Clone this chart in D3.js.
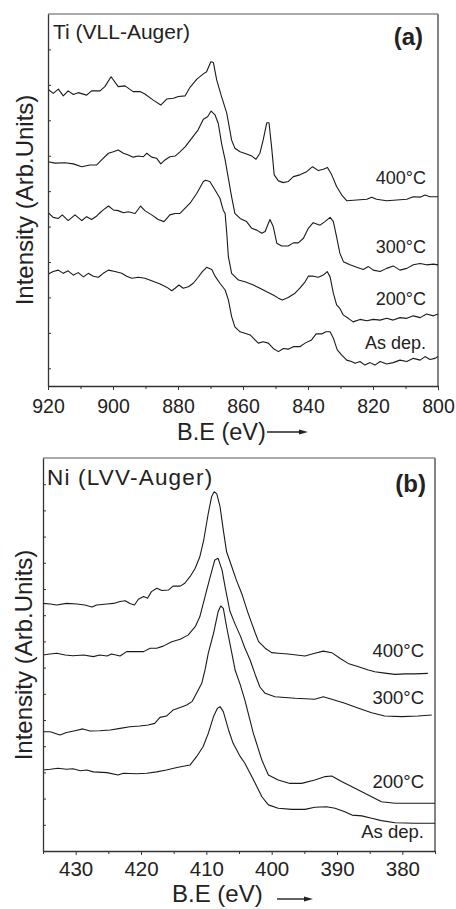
<!DOCTYPE html>
<html><head><meta charset="utf-8">
<script src="https://cdn.jsdelivr.net/npm/d3@7"></script>
<style>
body{margin:0;background:#fff}
svg{display:block}
text{font-family:"Liberation Sans",Arial,Helvetica,sans-serif;fill:#222}
</style>
</head><body>
<svg id="c" width="456" height="909"></svg>
<script>
// ---------- DATA : panel (a) Ti (VLL-Auger), [B.E (eV), intensity (arb.)] ----------
const tiTicksMajor = [920, 900, 880, 860, 840, 820, 800];
const tiTicksMinor = [910, 890, 870, 850, 830, 810];
const tiYTicks = [0.5,1.5,2.5,3.5,4.5,5.5,6.5,7.5,8.5,9.5];
const ti400 = [[919.9,8.37],[918.4,8.26],[916.8,8.38],[915.3,8.19],[913.8,8.33],[912.2,8.23],[910.7,8.28],[908.1,8.21],[906.6,8.33],[904.0,8.33],[902.5,8.45],[900.6,8.73],[898.4,8.45],[896.3,8.47],[893.8,8.31],[891.7,8.31],[890.2,8.24],[887.6,8.07],[885.3,7.93],[883.5,8.10],[881.4,8.12],[879.9,8.17],[877.8,8.19],[876.3,8.43],[874.2,8.66],[872.2,8.81],[871.2,8.87],[869.9,9.15],[869.1,9.13],[868.1,8.64],[866.6,8.17],[865.0,7.70],[863.5,6.94],[862.5,6.71],[860.9,6.61],[858.9,6.55],[857.3,6.49],[856.0,6.40],[854.8,6.57],[853.8,6.94],[852.7,7.43],[852.0,7.43],[851.2,6.75],[850.4,5.96],[849.1,5.79],[847.6,5.74],[846.1,5.77],[844.5,5.91],[842.5,5.96],[840.4,6.05],[838.6,6.19],[836.8,6.08],[835.3,6.12],[834.0,6.17],[832.7,5.96],[831.2,5.63],[829.6,5.39],[828.1,5.23],[825.0,5.25],[821.9,5.27],[820.4,5.33],[818.9,5.27],[815.8,5.23],[812.7,5.25],[809.6,5.27],[807.6,5.34],[805.5,5.33],[804.0,5.39],[802.5,5.34],[800.0,5.34]];
const ti300 = [[919.9,6.33],[917.8,6.29],[914.8,6.30],[912.2,6.27],[909.6,6.19],[907.1,6.24],[905.0,6.24],[903.5,6.38],[901.4,6.57],[899.9,6.61],[898.4,6.66],[896.8,6.57],[895.3,6.52],[893.8,6.46],[892.2,6.49],[890.7,6.47],[889.6,6.57],[888.1,6.46],[886.6,6.43],[885.3,6.27],[884.0,6.38],[882.5,6.47],[880.9,6.49],[879.4,6.61],[877.8,6.75],[875.8,6.99],[873.8,7.23],[872.2,7.53],[870.9,7.60],[869.8,7.76],[868.6,7.65],[867.6,7.41],[866.6,6.85],[865.5,6.38],[864.5,5.86],[863.5,5.34],[862.5,4.87],[860.9,4.73],[858.9,4.64],[857.3,4.45],[855.8,4.40],[854.2,4.31],[853.2,4.36],[851.7,4.70],[850.7,4.50],[849.6,4.03],[848.1,3.95],[846.1,3.95],[844.5,4.04],[843.0,4.04],[841.4,4.17],[839.9,4.45],[838.4,4.61],[836.3,4.54],[834.8,4.64],[833.2,4.76],[832.2,4.64],[831.2,4.21],[830.2,3.75],[829.1,3.51],[827.1,3.42],[825.0,3.35],[823.0,3.29],[821.4,3.37],[819.9,3.27],[817.8,3.23],[815.8,3.32],[813.8,3.39],[811.7,3.27],[809.6,3.32],[807.6,3.42],[805.5,3.46],[803.5,3.42],[801.4,3.44],[800.0,3.42]];
const ti200 = [[919.9,4.89],[918.4,4.76],[916.8,4.73],[915.6,4.83],[913.8,4.67],[911.7,4.83],[909.6,4.67],[908.1,4.78],[906.6,4.70],[905.0,4.80],[904.0,4.89],[903.0,4.97],[901.4,5.08],[899.9,4.97],[898.4,4.95],[896.8,4.89],[895.3,4.92],[893.2,4.87],[891.5,5.08],[890.2,4.95],[888.1,4.83],[886.1,4.70],[884.3,4.64],[882.5,4.83],[880.9,4.87],[879.4,4.87],[877.8,5.02],[876.3,5.16],[874.2,5.44],[872.2,5.77],[871.5,5.81],[870.2,5.77],[868.6,5.53],[867.1,5.30],[866.1,4.97],[865.5,4.87],[865.0,4.31],[864.5,3.65],[863.5,3.18],[861.4,2.99],[859.4,2.94],[856.8,2.85],[854.8,2.76],[852.7,2.66],[850.7,2.57],[849.1,2.48],[847.9,2.43],[846.1,2.50],[844.0,2.62],[842.5,2.76],[840.9,2.94],[839.9,3.10],[838.4,3.10],[836.8,3.07],[835.3,3.13],[834.1,3.23],[833.2,3.08],[832.2,2.62],[831.2,2.29],[830.2,2.19],[829.1,2.00],[827.6,1.91],[826.1,1.81],[824.0,1.88],[821.9,1.84],[819.9,1.88],[817.8,1.86],[815.8,1.91],[813.8,1.86],[811.7,1.93],[809.6,1.91],[807.6,1.98],[805.5,1.93],[803.5,2.03],[801.4,1.98],[800.0,2.03]];
const tiAsDep = [[919.9,3.16],[918.4,3.23],[916.8,3.27],[915.3,3.18],[913.8,3.25],[912.2,3.13],[910.7,3.20],[909.1,3.08],[907.6,3.18],[906.1,3.10],[904.5,3.07],[903.0,3.18],[901.4,3.27],[899.4,3.23],[897.3,3.18],[895.8,3.10],[894.2,3.04],[892.2,3.07],[890.2,3.04],[888.1,2.97],[885.5,2.88],[883.5,2.79],[881.9,2.69],[880.9,2.76],[879.7,2.85],[878.4,2.76],[876.8,2.80],[875.3,2.90],[873.8,3.07],[872.5,3.23],[871.2,3.35],[869.6,3.29],[868.6,3.10],[867.1,2.90],[865.5,2.71],[864.5,2.43],[863.5,1.96],[862.5,1.67],[860.9,1.53],[859.4,1.49],[857.8,1.44],[856.3,1.30],[855.3,1.21],[853.8,1.25],[852.2,1.21],[850.7,1.06],[849.1,0.97],[847.6,1.06],[846.1,1.04],[844.5,1.11],[842.5,1.11],[840.9,1.21],[838.9,1.30],[837.5,1.47],[835.8,1.47],[834.5,1.53],[833.2,1.53],[832.2,1.35],[831.0,1.02],[829.6,0.87],[828.1,0.73],[826.6,0.69],[825.5,0.64],[824.0,0.69],[822.5,0.59],[820.9,0.66],[819.4,0.59],[817.8,0.69],[815.8,0.62],[813.8,0.66],[811.7,0.73],[809.6,0.69],[807.6,0.78],[805.5,0.73],[804.0,0.83],[802.5,0.75],[800.9,0.78],[800.0,0.83]];
const tiLabels = ["400°C", "300°C", "200°C", "As dep."];
const tiLabelLevels = [5.7, 3.75, 2.28, 1.05];

// ---------- DATA : panel (b) Ni (LVV-Auger) ----------
const niTicksMajor = [430, 420, 410, 400, 390, 380];
const niTicksMinor = [435, 425, 415, 405, 395, 385, 375];
const niYTicks = [1,2,3,4,5,6,7,8,9,10,11,12,13,14];
const ni400 = [[435.0,9.45],[433.9,9.43],[432.9,9.39],[431.4,9.45],[429.8,9.43],[428.6,9.39],[427.5,9.31],[426.8,9.39],[425.2,9.43],[424.2,9.45],[423.2,9.52],[422.4,9.55],[421.7,9.45],[421.0,9.39],[420.4,9.61],[419.6,9.71],[419.0,9.65],[418.4,9.90],[417.6,10.03],[416.8,9.94],[415.8,9.96],[415.1,10.11],[414.0,10.11],[413.3,10.22],[412.5,10.47],[411.7,10.79],[411.0,11.23],[410.4,11.87],[409.7,12.89],[409.2,13.52],[408.8,13.71],[408.4,13.63],[407.9,13.14],[407.4,12.25],[406.9,11.42],[406.1,10.85],[405.4,10.34],[404.6,9.84],[403.6,9.07],[402.5,8.31],[402.0,7.99],[401.0,7.74],[400.0,7.57],[399.0,7.55],[397.5,7.52],[396.2,7.48],[394.9,7.44],[393.4,7.55],[392.1,7.63],[390.8,7.57],[389.5,7.35],[388.3,7.16],[386.7,7.03],[385.2,6.91],[384.2,6.84],[382.7,6.79],[381.1,6.74],[379.6,6.76],[378.1,6.76],[376.1,6.78]];
const ni300 = [[435.0,7.48],[433.9,7.52],[432.9,7.55],[431.6,7.48],[430.4,7.45],[428.8,7.48],[427.3,7.42],[426.3,7.48],[425.2,7.44],[424.5,7.52],[423.2,7.44],[422.2,7.61],[420.7,7.61],[419.6,7.61],[418.6,7.74],[417.6,7.74],[416.6,7.82],[415.3,7.99],[414.0,8.08],[412.8,8.24],[411.7,8.56],[411.0,8.94],[410.2,9.71],[409.4,10.47],[408.7,11.11],[408.2,11.17],[407.6,10.73],[407.1,10.04],[406.4,9.16],[405.6,8.66],[404.8,8.21],[404.1,7.75],[403.3,7.29],[402.5,6.72],[401.8,6.26],[401.0,6.02],[399.5,5.89],[396.4,5.83],[393.4,5.79],[392.1,5.89],[390.8,5.79],[388.8,5.64],[386.7,5.45],[384.7,5.28],[382.7,5.15],[380.1,5.13],[377.6,5.15],[375.5,5.19]];
const ni200 = [[435.0,4.55],[433.9,4.55],[432.4,4.43],[431.4,4.52],[430.1,4.59],[428.9,4.66],[427.8,4.58],[426.3,4.59],[424.7,4.62],[423.2,4.68],[421.7,4.74],[420.2,4.77],[418.9,4.81],[417.9,4.87],[417.1,5.10],[416.1,5.15],[415.1,5.38],[414.0,5.48],[413.0,5.57],[412.2,5.70],[411.5,6.02],[410.7,6.40],[410.2,6.91],[409.7,7.55],[408.9,8.31],[408.2,9.13],[407.8,9.35],[407.4,9.26],[406.9,8.56],[406.1,7.55],[405.6,6.91],[404.8,6.34],[404.1,5.76],[402.8,4.49],[401.5,3.47],[400.5,2.90],[399.0,2.71],[397.2,2.58],[395.4,2.58],[393.4,2.71],[391.8,2.84],[390.8,2.86],[389.3,2.65],[387.7,2.45],[386.2,2.26],[384.7,2.07],[383.2,1.88],[381.1,1.82],[378.1,1.82],[375.0,1.82]];
const niAsDep = [[435.0,3.09],[433.9,3.12],[432.7,3.16],[431.4,3.12],[430.4,3.14],[429.3,3.06],[428.3,3.09],[427.3,3.02],[425.2,2.99],[423.5,2.90],[422.7,2.97],[420.7,2.95],[419.1,2.97],[417.6,3.02],[416.1,3.09],[414.5,3.19],[412.5,3.28],[411.5,3.60],[410.5,3.98],[409.7,4.49],[408.9,5.13],[408.3,5.45],[407.9,5.51],[407.4,5.32],[406.6,4.62],[405.9,4.11],[404.8,3.60],[404.1,3.35],[402.5,2.58],[401.5,2.07],[400.5,1.76],[399.0,1.63],[396.9,1.59],[394.9,1.59],[393.4,1.67],[391.6,1.69],[390.3,1.63],[388.8,1.50],[387.7,1.37],[386.2,1.34],[384.7,1.25],[383.2,1.16],[381.1,1.08],[378.1,1.06],[375.0,1.06]];
const niLabels = ["400°C", "300°C", "200°C", "As dep."];
const niLabelLevels = [7.4, 5.6, 2.4, 0.5];

// ---------- DRAW ----------
const svg = d3.select("#c");
const font = '"Liberation Sans", Arial, Helvetica, sans-serif';

function panel(o) {
  const g = svg.append("g");
  const x = d3.scaleLinear().domain(o.xDomain).range([o.left, o.right]);
  const y = d3.scaleLinear().domain(o.yDomain).range([o.bottom, o.top]);

  g.append("line").attr("x1", o.left).attr("x2", o.right).attr("y1", o.top).attr("y2", o.top)
    .attr("stroke", "#555").attr("stroke-width", 1.2);
  g.append("line").attr("x1", o.right).attr("x2", o.right).attr("y1", o.top).attr("y2", o.bottom)
    .attr("stroke", "#777").attr("stroke-width", 1.8);

  const line = d3.line().x(d => x(d[0])).y(d => y(d[1]));
  o.series.forEach(s => {
    g.append("path").datum(s).attr("d", line)
      .attr("fill", "none").attr("stroke", "#1a1a1a").attr("stroke-width", 1.1)
      .attr("stroke-linejoin", "round");
  });

  const ax = g.append("g").attr("transform", `translate(0,${o.bottom})`)
    .call(d3.axisBottom(x).tickValues(o.major).tickSizeInner(o.tick).tickSizeOuter(0)
      .tickPadding(o.pad).tickFormat(d3.format("d")));
  ax.select(".domain").attr("stroke", "#333").attr("stroke-width", 1.3);
  ax.selectAll(".tick line").attr("stroke", "#333").attr("stroke-width", 1);
  ax.selectAll("text").attr("font-family", font).attr("font-size", o.tickFont).attr("fill", "#222");
  const mx = g.append("g").attr("transform", `translate(0,${o.bottom})`)
    .call(d3.axisBottom(x).tickValues(o.minor).tickSizeInner(o.tick - 1).tickSizeOuter(0).tickFormat(""));
  mx.select(".domain").remove();
  mx.selectAll(".tick line").attr("stroke", "#333");

  const ay = g.append("g").attr("transform", `translate(${o.left},0)`)
    .call(d3.axisRight(y).tickValues(o.yTicks).tickSizeInner(3).tickSizeOuter(0).tickFormat(""));
  ay.select(".domain").attr("stroke", "#333").attr("stroke-width", 1.3);
  ay.selectAll(".tick line").attr("stroke", "#333");

  o.labels.forEach((t, i) => {
    g.append("text").attr("x", o.labelX).attr("y", y(o.labelLevels[i]))
      .attr("text-anchor", "end").attr("font-size", o.labelFont).text(t);
  });

  g.append("text").attr("x", o.titleX).attr("y", o.titleY)
    .attr("font-size", o.titleFont).attr("letter-spacing", o.titleSpacing).text(o.title);
  g.append("text").attr("x", o.tagX).attr("y", o.titleY + o.tagDy)
    .attr("text-anchor", "end").attr("font-size", o.tagFont).attr("font-weight", "bold").text(o.tag);

  g.append("text").attr("transform", `translate(${o.yTitleX},${o.yTitleY}) rotate(-90)`)
    .attr("text-anchor", "middle").attr("font-size", 24).text("Intensity (Arb.Units)");

  g.append("text").attr("x", o.xTitleX).attr("y", o.xTitleY)
    .attr("font-size", o.xTitleFont).text("B.E (eV)");
  g.append("line").attr("x1", o.arrow[0]).attr("x2", o.arrow[1] - 6)
    .attr("y1", o.arrow[2]).attr("y2", o.arrow[2]).attr("stroke", "#222").attr("stroke-width", 1.4);
  g.append("path").attr("d", `M${o.arrow[1]},${o.arrow[2]} l-9,-2.6 l0,5.2 z`).attr("fill", "#222");
}

panel({
  xDomain: [920, 800], yDomain: [0, 10.5], left: 48, right: 438, top: 14, bottom: 386,
  series: [ti400, ti300, ti200, tiAsDep], major: tiTicksMajor, minor: tiTicksMinor, yTicks: tiYTicks,
  tick: 4, pad: 9, tickFont: 19.5,
  labels: tiLabels, labelLevels: tiLabelLevels, labelX: 426, labelFont: 18,
  title: "Ti (VLL-Auger)", titleX: 53, titleY: 39, titleFont: 21, titleSpacing: 0,
  tag: "(a)", tagX: 423, tagDy: 6, tagFont: 24,
  yTitleX: 33, yTitleY: 200,
  xTitleX: 177, xTitleY: 440, xTitleFont: 23.5, arrow: [267, 308, 432]
});

panel({
  xDomain: [435, 375], yDomain: [0, 15], left: 43, right: 435, top: 458, bottom: 851,
  series: [ni400, ni300, ni200, niAsDep], major: niTicksMajor, minor: niTicksMinor, yTicks: niYTicks,
  tick: 4, pad: 6, tickFont: 20.5,
  labels: niLabels, labelLevels: niLabelLevels, labelX: 424, labelFont: 18.5,
  title: "Ni (LVV-Auger)", titleX: 47, titleY: 485, titleFont: 22.5, titleSpacing: 1.2,
  tag: "(b)", tagX: 426, tagDy: 7, tagFont: 24,
  yTitleX: 32, yTitleY: 655,
  xTitleX: 172, xTitleY: 902, xTitleFont: 24, arrow: [277, 313, 899]
});
</script>
</body></html>
